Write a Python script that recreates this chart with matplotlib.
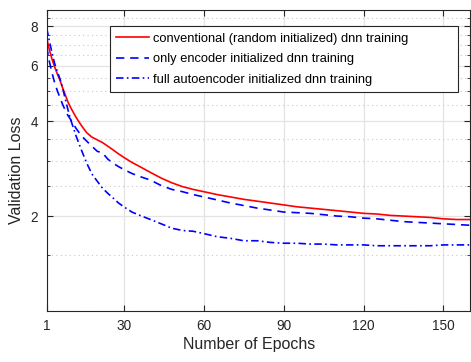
import numpy as np
import matplotlib
matplotlib.use('Agg')
from matplotlib import pyplot as plt
from matplotlib.ticker import FixedLocator, NullFormatter

# values
epochs = [1, 2, 3, 4, 5, 6, 7, 8, 9, 10, 12, 14, 16, 18, 20, 22, 24, 26, 28, 30,
          33, 36, 40, 44, 48, 52, 56, 60, 65, 70, 75, 80, 85, 90, 95, 100, 105,
          110, 115, 120, 125, 130, 135, 140, 145, 150, 155, 160]

conventional = [7.35, 6.75, 6.3, 5.95, 5.65, 5.4, 5.1, 4.85, 4.6, 4.42, 4.12, 3.88,
                3.68, 3.56, 3.49, 3.42, 3.33, 3.24, 3.15, 3.07, 2.96, 2.87, 2.75,
                2.64, 2.55, 2.48, 2.43, 2.39, 2.34, 2.30, 2.26, 2.23, 2.20, 2.17,
                2.14, 2.12, 2.10, 2.08, 2.06, 2.04, 2.03, 2.01, 2.00, 1.99, 1.98,
                1.96, 1.95, 1.95]

encoder_init = [6.9, 6.2, 5.7, 5.3, 5.0, 4.75, 4.52, 4.33, 4.17, 4.05, 3.8, 3.6,
                3.46, 3.33, 3.21, 3.17, 3.03, 2.94, 2.87, 2.81, 2.73, 2.67, 2.60,
                2.50, 2.43, 2.39, 2.34, 2.30, 2.25, 2.20, 2.16, 2.12, 2.09, 2.06,
                2.05, 2.04, 2.02, 2.00, 1.99, 1.97, 1.96, 1.94, 1.92, 1.91, 1.90,
                1.89, 1.88, 1.87]

autoencoder_init = [7.9, 7.2, 6.6, 6.1, 5.75, 5.45, 5.1, 4.7, 4.35, 4.05, 3.6, 3.25,
                    2.95, 2.72, 2.58, 2.45, 2.36, 2.28, 2.2, 2.14, 2.06, 2.01, 1.95,
                    1.89, 1.83, 1.80, 1.79, 1.76, 1.72, 1.70, 1.67, 1.67, 1.65, 1.64,
                    1.64, 1.63, 1.63, 1.62, 1.62, 1.62, 1.61, 1.61, 1.61, 1.61, 1.61,
                    1.62, 1.62, 1.62]

labels = ['conventional (random initialized) dnn training',
          'only encoder initialized dnn training',
          'full autoencoder initialized dnn training']

x_ticks = [1, 30, 60, 90, 120, 150]
y_ticks = [2, 4, 6, 8]

plt.rcParams['font.family'] = ['Liberation Sans', 'DejaVu Sans']

fig = plt.figure(figsize=(4.71, 3.62), dpi=100)
ax = fig.add_axes([0.099, 0.141, 0.899, 0.831])

ax.plot(epochs, conventional, '-', color=(1, 0, 0), lw=1.2, label=labels[0])
ax.plot(epochs, encoder_init, '--', color=(0, 0, 1), lw=1.2, dashes=(5, 3.5), label=labels[1])
ax.plot(epochs, autoencoder_init, '-.', color=(0, 0, 1), lw=1.2, dashes=(4.5, 2, 1, 2), label=labels[2])

ax.set_yscale('log')
ax.set_xlim(1, 160)
ax.set_ylim(1, 9)
ax.xaxis.set_major_locator(FixedLocator(x_ticks))
ax.yaxis.set_major_locator(FixedLocator(y_ticks))
ax.set_yticklabels([str(v) for v in y_ticks])
minor = [v for v in np.arange(1.0, 9.01, 0.5) if v not in y_ticks]
ax.yaxis.set_minor_locator(FixedLocator(minor))
ax.yaxis.set_minor_formatter(NullFormatter())

ax.grid(True, which='major', color='#e3e3e3', lw=0.9, ls='-')
ax.grid(True, which='minor', axis='y', color='#c8c8c8', lw=0.8, ls=(0, (1, 3)))
ax.set_axisbelow(True)

for s in ax.spines.values():
    s.set_color('#262626')
    s.set_linewidth(0.8)
ax.tick_params(which='both', direction='in', top=True, right=True, colors='#262626')
ax.tick_params(which='major', length=4, labelsize=9.8, pad=6)
ax.tick_params(which='minor', length=2)

ax.set_xlabel('Number of Epochs', fontsize=11.5, color='#262626', va='center')
ax.set_ylabel('Validation Loss', fontsize=11.5, color='#262626', va='center')
ax.xaxis.set_label_coords(0.479, -0.11)
ax.yaxis.set_label_coords(-0.070, 0.468)

# MATLAB-like legend box with extra room on the right
leg = ax.legend(loc='upper left', bbox_to_anchor=(0.1495, 0.947 - 0.213, 0.8225, 0.213),
                mode='expand', fontsize=9.3,
                handlelength=2.5, handletextpad=0.35, labelspacing=0.66,
                borderpad=0.5, borderaxespad=0, fancybox=False, framealpha=1)
leg.get_frame().set_edgecolor('#262626')
leg.get_frame().set_linewidth(0.8)

plt.savefig('out.png', dpi=100)
